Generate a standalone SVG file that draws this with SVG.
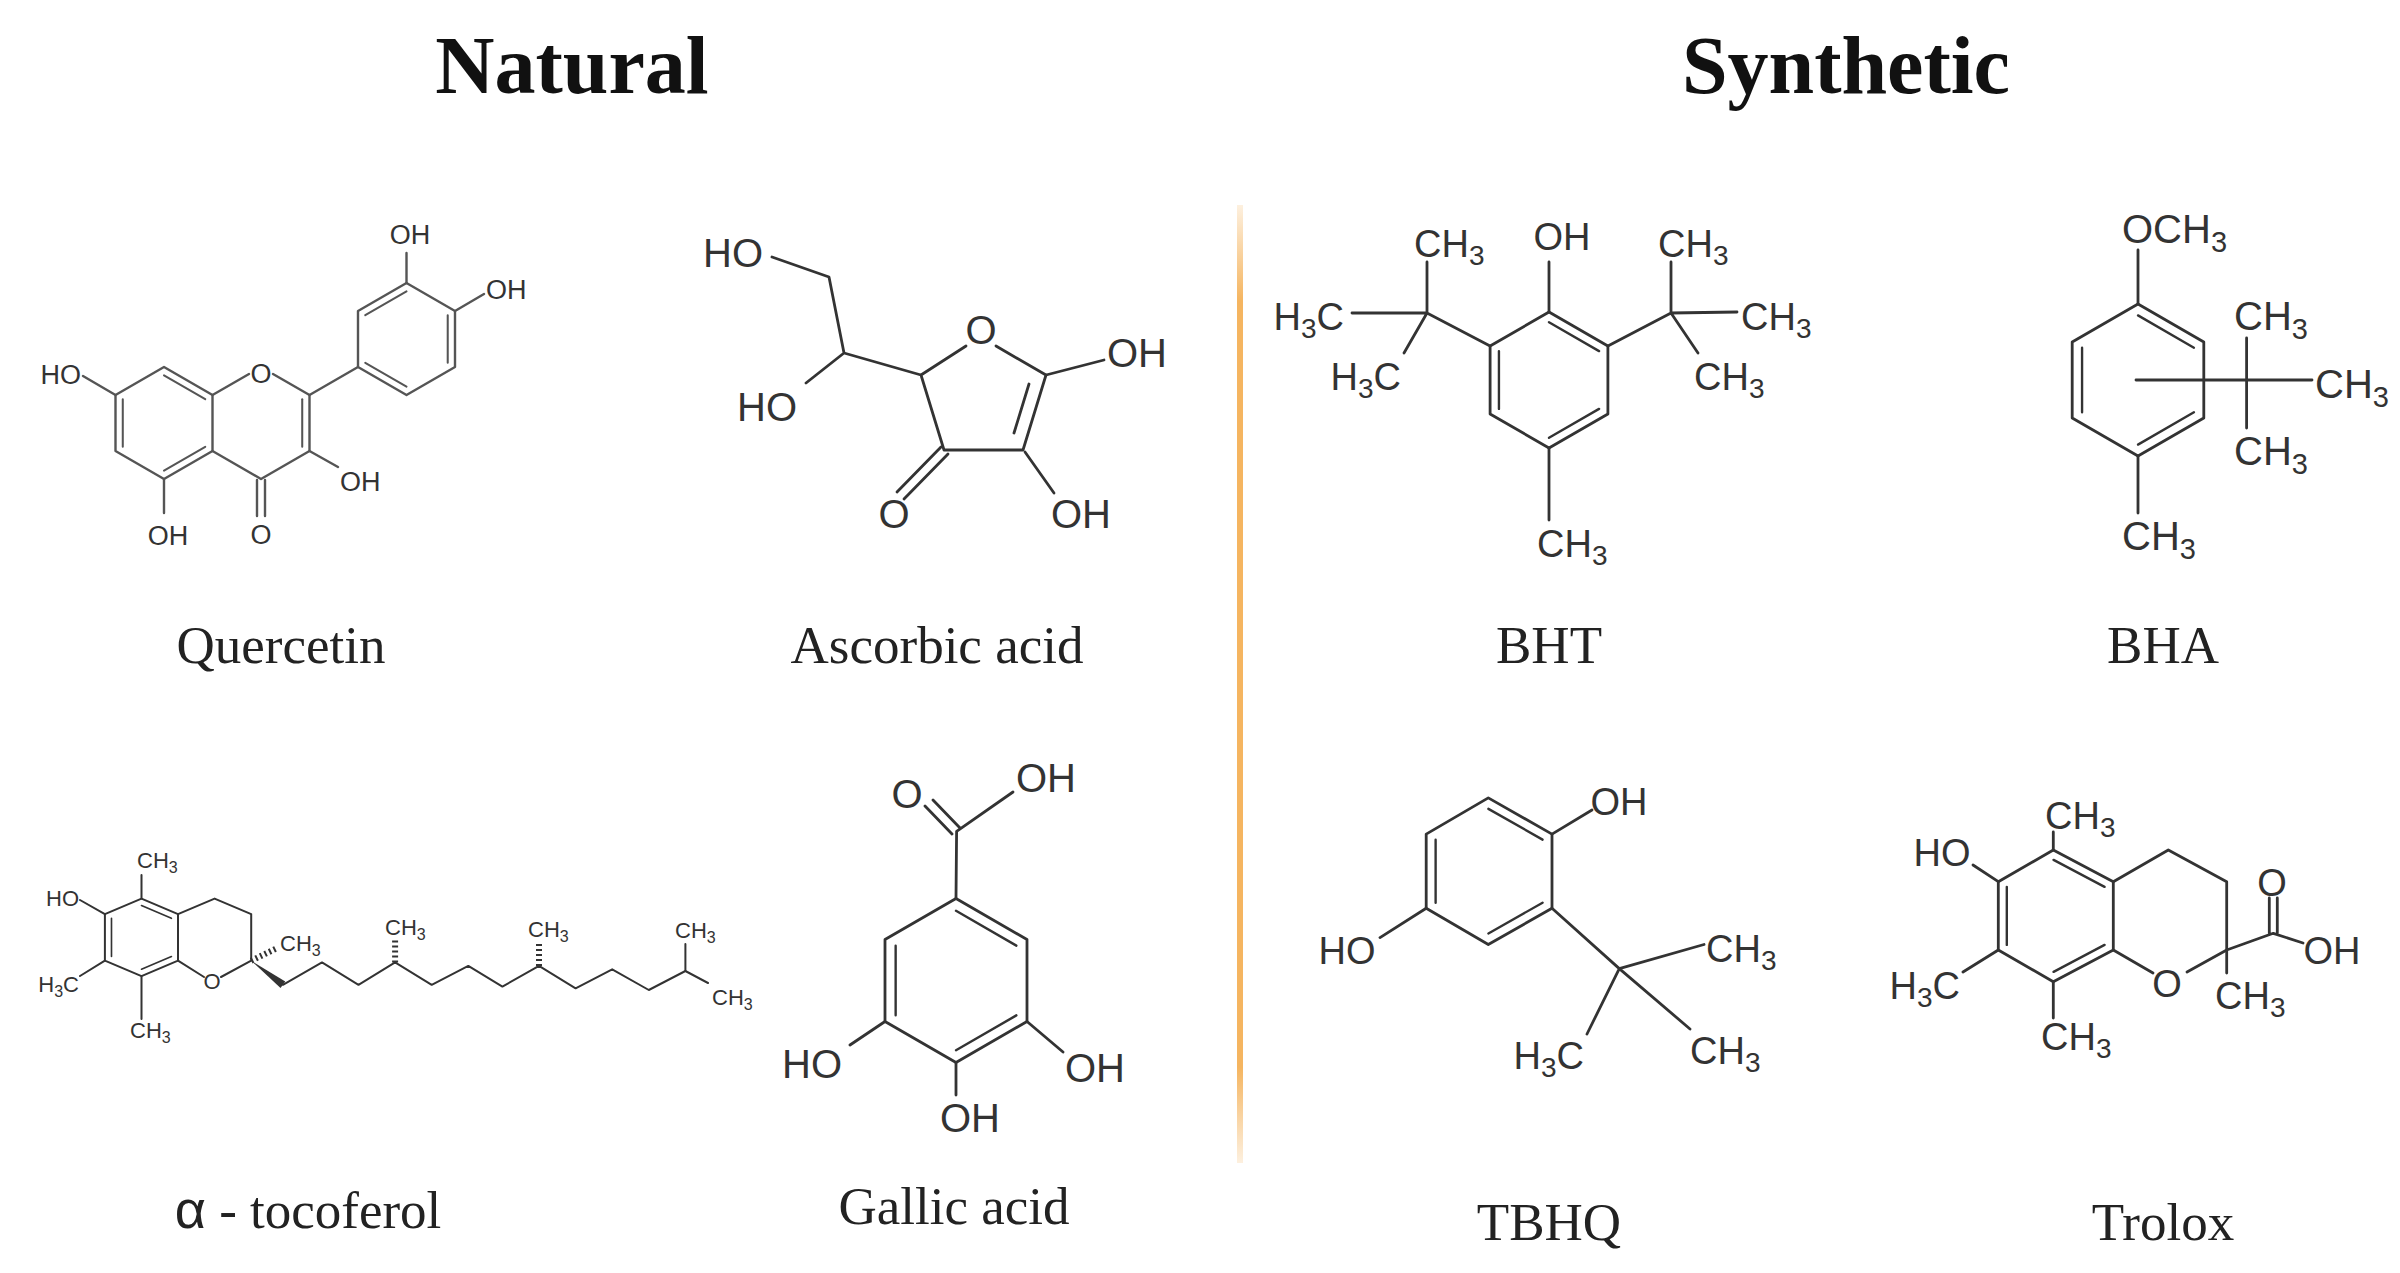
<svg xmlns="http://www.w3.org/2000/svg" width="2400" height="1273" viewBox="0 0 2400 1273">
<defs>
<linearGradient id="div" x1="0" y1="0" x2="0" y2="1">
<stop offset="0" stop-color="#F5B560" stop-opacity="0.2"/>
<stop offset="0.1" stop-color="#F5B560"/>
<stop offset="0.9" stop-color="#F5B560"/>
<stop offset="1" stop-color="#F5B560" stop-opacity="0.2"/>
</linearGradient>
</defs>
<style>
.b{fill:none;stroke:#333;stroke-width:2.8;stroke-linecap:round;stroke-linejoin:round}
.q{fill:none;stroke:#555;stroke-width:2.4;stroke-linecap:round;stroke-linejoin:round}
.t{fill:none;stroke:#333;stroke-width:2;stroke-linecap:round;stroke-linejoin:round}
.a{font-family:"Liberation Sans",Arial,sans-serif;fill:#333}
.a38{font-size:38px}.a40{font-size:40px}.a26{font-size:27px}.a22{font-size:22px}
.name{font-family:"Liberation Serif","Times New Roman",serif;font-size:53px;fill:#222;text-anchor:middle}
.title{font-family:"Liberation Serif","Times New Roman",serif;font-size:82px;font-weight:bold;fill:#111;text-anchor:middle}
.m{text-anchor:middle}.e{text-anchor:end}
</style>
<rect width="2400" height="1273" fill="#fff"/>
<text class="title" x="572" y="93">Natural</text>
<text class="title" x="1846" y="93">Synthetic</text>
<rect x="1237" y="205" width="6" height="958" fill="url(#div)"/>

<g id="quercetin">
<g class="q">
<polygon points="164,367 212.5,395 212.5,451 164,479 115.5,451 115.5,395"/>
<g transform="translate(164 423) scale(0.85) translate(-164 -423)"><path d="M164,367L212.5,395M115.5,395L115.5,451M212.5,451L164,479"/></g>
<path d="M212.5,395L249,374M273,374L309.5,395L309.5,451L261,479L212.5,451"/>
<g transform="translate(261 423) scale(0.85) translate(-261 -423)"><path d="M309.5,395L309.5,451"/></g>
<path d="M309.5,395L358,367"/>
<polygon points="406.5,283 455,311 455,367 406.5,395 358,367 358,311"/>
<g transform="translate(406.5 339) scale(0.85) translate(-406.5 -339)"><path d="M358,311L406.5,283M455,311L455,367M406.5,395L358,367"/></g>
<path d="M115.5,395L83,376M164,479L164,513M257,480L257,516M265,480L265,516M309.5,451L338,467M406.5,283L406.5,253M455,311L484,294"/>
</g>
<g class="a a26" fill="#444">
<text class="e" x="81" y="384">HO</text>
<text class="m" x="168" y="545">OH</text>
<text class="m" x="261" y="544">O</text>
<text x="340" y="491">OH</text>
<text class="m" x="261" y="383">O</text>
<text class="m" x="410" y="244">OH</text>
<text x="486" y="299">OH</text>
</g>
<text class="name" x="281" y="663">Quercetin</text>
</g>

<g id="ascorbic">
<g class="b">
<path d="M772,257L829,277L844,353L806,383M844,353L921,375L966,346M996,346L1046,375L1023,450L944,450L921,375"/>
<path d="M1029,384L1014,433"/>
<path d="M941,447L897,492M948,454L904,499"/>
<path d="M1025,452L1054,493M1046,375L1104,360"/>
</g>
<g class="a a40">
<text class="m" x="733" y="267">HO</text>
<text class="m" x="767" y="421">HO</text>
<text class="m" x="981" y="344">O</text>
<text class="m" x="1137" y="367">OH</text>
<text class="m" x="894" y="528">O</text>
<text class="m" x="1081" y="528">OH</text>
</g>
<text class="name" x="937" y="663">Ascorbic acid</text>
</g>

<g id="bht">
<g class="b">
<polygon points="1549,312 1607.9,346 1607.9,414 1549,448 1490.1,414 1490.1,346"/>
<g transform="translate(1549 380) scale(0.85) translate(-1549 -380)"><path d="M1549,312L1607.9,346M1490.1,346L1490.1,414M1607.9,414L1549,448"/></g>
<path d="M1549,312L1549,262M1490.1,346L1427,313M1427,313L1427,262M1427,313L1352,313M1427,313L1404,353"/>
<path d="M1607.9,346L1671,313M1671,313L1671,262M1671,313L1737,312M1671,313L1698,353M1549,448L1549,520"/>
</g>
<g class="a a38">
<text class="m" x="1562" y="250">OH</text>
<text x="1414" y="257">CH<tspan font-size="28" dy="8">3</tspan></text>
<text class="e" x="1344" y="330">H<tspan font-size="28" dy="8">3</tspan><tspan dy="-8">C</tspan></text>
<text class="e" x="1401" y="390">H<tspan font-size="28" dy="8">3</tspan><tspan dy="-8">C</tspan></text>
<text x="1658" y="257">CH<tspan font-size="28" dy="8">3</tspan></text>
<text x="1741" y="330">CH<tspan font-size="28" dy="8">3</tspan></text>
<text x="1694" y="390">CH<tspan font-size="28" dy="8">3</tspan></text>
<text x="1537" y="557">CH<tspan font-size="28" dy="8">3</tspan></text>
</g>
<text class="name" x="1549" y="663">BHT</text>
</g>

<g id="bha">
<g class="b">
<polygon points="2138,304 2203.8,342 2203.8,418 2138,456 2072.2,418 2072.2,342"/>
<g transform="translate(2138 380) scale(0.85) translate(-2138 -380)"><path d="M2138,304L2203.8,342M2072.2,342L2072.2,418M2203.8,418L2138,456"/></g>
<path d="M2138,304L2138,250M2136,380L2312,380M2246.6,338L2246.6,428M2138,456L2138,513"/>
</g>
<g class="a a40">
<text x="2122" y="243">OCH<tspan font-size="29" dy="9">3</tspan></text>
<text x="2234" y="330">CH<tspan font-size="29" dy="9">3</tspan></text>
<text x="2315" y="398">CH<tspan font-size="29" dy="9">3</tspan></text>
<text x="2234" y="465">CH<tspan font-size="29" dy="9">3</tspan></text>
<text x="2122" y="550">CH<tspan font-size="29" dy="9">3</tspan></text>
</g>
<text class="name" x="2163" y="663">BHA</text>
</g>

<g id="tocopherol">
<g class="t">
<polygon points="104.9,914.1 141.5,898.6 178,914.1 178,960.7 141.5,976.2 104.9,960.7"/>
<g transform="translate(141.5 937.4) scale(0.82) translate(-141.5 -937.4)"><path d="M141.5,898.6L178,914.1M104.9,914.1L104.9,960.7M178,960.7L141.5,976.2"/></g>
<path d="M178,914.1L214.6,898.6L251.2,914.1L251.2,960.7L221,977M204,977L178,960.7"/>
<path d="M104.9,914.1L80,900M141.5,898.6L141.5,875M104.9,960.7L80,976M141.5,976.2L141.5,1019"/>
<polyline points="282.9,984.8 322,962.4 358.5,984.8 395.1,962.4 431.7,984.8 468.3,965.9 502.4,986.6 539,965.9 575.6,988.3 612.2,969.3 648.8,990 685.4,971 708,983"/>
<path d="M685.4,971L685.4,944"/>
<path d="M251.2,960.7L276,948.6M395.1,962.4L395.1,940M539,965.9L539,942" stroke-width="6" stroke-dasharray="2 3" stroke-linecap="butt"/>
</g>
<polygon points="251.2,960.7 280.5,988 285.3,981.6" fill="#333"/>
<g class="a a22">
<text class="e" x="79" y="906">HO</text>
<text x="137" y="868">CH<tspan font-size="16" dy="5">3</tspan></text>
<text class="e" x="79" y="992">H<tspan font-size="16" dy="5">3</tspan><tspan dy="-5">C</tspan></text>
<text x="130" y="1038">CH<tspan font-size="16" dy="5">3</tspan></text>
<text class="m" x="212" y="989">O</text>
<text x="280" y="951">CH<tspan font-size="16" dy="5">3</tspan></text>
<text x="385" y="935">CH<tspan font-size="16" dy="5">3</tspan></text>
<text x="528" y="937">CH<tspan font-size="16" dy="5">3</tspan></text>
<text x="675" y="938">CH<tspan font-size="16" dy="5">3</tspan></text>
<text x="712" y="1005">CH<tspan font-size="16" dy="5">3</tspan></text>
</g>
<text class="name" x="308" y="1228"><tspan font-family="'Liberation Sans',sans-serif" font-size="54">α</tspan> - tocoferol</text>
</g>

<g id="gallic">
<g class="b">
<polygon points="956,898.5 1027,939.5 1027,1021.5 956,1062.5 885,1021.5 885,939.5"/>
<g transform="translate(956 980.5) scale(0.85) translate(-956 -980.5)"><path d="M956,898.5L1027,939.5M885,939.5L885,1021.5M1027,1021.5L956,1062.5"/></g>
<path d="M956,898.5L956.6,831.4L1013,792M952,834L925,806M960,828L933,800M885,1021.5L850,1045M1027,1021.5L1063,1052M956,1062.5L956,1095"/>
</g>
<g class="a a40">
<text class="m" x="907" y="808">O</text>
<text class="m" x="1046" y="792">OH</text>
<text class="m" x="812" y="1078">HO</text>
<text class="m" x="1095" y="1082">OH</text>
<text class="m" x="970" y="1132">OH</text>
</g>
<text class="name" x="954" y="1224">Gallic acid</text>
</g>

<g id="tbhq">
<g class="b">
<polygon points="1488.3,797.9 1552,834.1 1552,908.3 1488.3,944.5 1426.2,908.3 1426.2,834.1"/>
<g transform="translate(1489 871) scale(0.85) translate(-1489 -871)"><path d="M1488.3,797.9L1552,834.1M1426.2,834.1L1426.2,908.3M1552,908.3L1488.3,944.5"/></g>
<path d="M1552,834.1L1592,810M1426.2,908.3L1380,937.6M1552,908.3L1619.3,968.6L1704,944.5M1619.3,968.6L1690,1029M1619.3,968.6L1587,1034"/>
</g>
<g class="a a38">
<text class="m" x="1619" y="815">OH</text>
<text class="m" x="1347" y="964">HO</text>
<text x="1706" y="962">CH<tspan font-size="28" dy="8">3</tspan></text>
<text x="1690" y="1064">CH<tspan font-size="28" dy="8">3</tspan></text>
<text class="e" x="1584" y="1069">H<tspan font-size="28" dy="8">3</tspan><tspan dy="-8">C</tspan></text>
</g>
<text class="name" x="1549" y="1240">TBHQ</text>
</g>

<g id="trolox">
<g class="b">
<polygon points="2053.3,850 2113.3,881.7 2113.3,950 2053.3,981.7 1998.3,950 1998.3,881.7"/>
<g transform="translate(2055 916) scale(0.85) translate(-2055 -916)"><path d="M2053.3,850L2113.3,881.7M1998.3,881.7L1998.3,950M2113.3,950L2053.3,981.7"/></g>
<path d="M2113.3,881.7L2168.3,850L2226.7,881.7L2226.7,950L2187,972M2153,973L2113.3,950"/>
<path d="M2226.7,950L2273.3,933.3L2303,943M2269.3,933L2269.3,898M2277.3,933L2277.3,898M2226.7,950L2226.7,973"/>
<path d="M2053.3,850L2053.3,832M1998.3,881.7L1973,865M1998.3,950L1963,972M2053.3,981.7L2053.3,1018"/>
</g>
<g class="a a38">
<text class="m" x="2272" y="896">O</text>
<text class="m" x="2332" y="964">OH</text>
<text class="m" x="2167" y="997">O</text>
<text x="2215" y="1009">CH<tspan font-size="28" dy="8">3</tspan></text>
<text x="2045" y="829">CH<tspan font-size="28" dy="8">3</tspan></text>
<text class="m" x="1942" y="866">HO</text>
<text class="e" x="1960" y="999">H<tspan font-size="28" dy="8">3</tspan><tspan dy="-8">C</tspan></text>
<text x="2041" y="1050">CH<tspan font-size="28" dy="8">3</tspan></text>
</g>
<text class="name" x="2163" y="1240">Trolox</text>
</g>
</svg>
